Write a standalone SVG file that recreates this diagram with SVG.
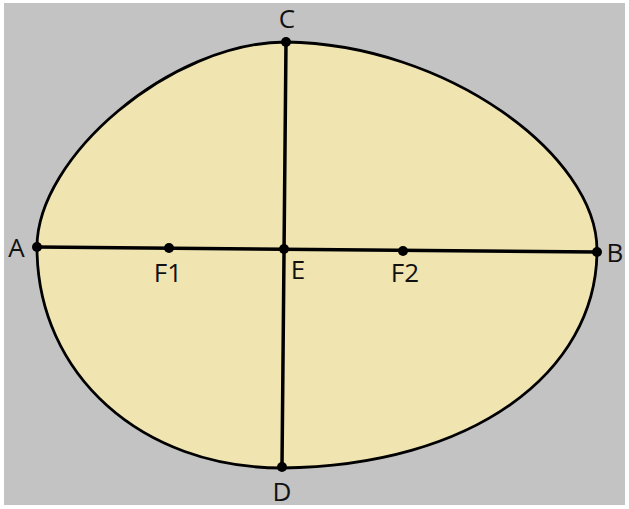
<svg xmlns="http://www.w3.org/2000/svg" width="629" height="509" viewBox="0 0 629 509">
<style>
.lbl{font-family:"Open Sans","Noto Sans","Liberation Sans",sans-serif;font-size:26px;fill:#111;text-anchor:middle}
.ax{stroke:#000;stroke-width:3.5;fill:none;stroke-linecap:round}
.pt{fill:#000}
</style>
<rect x="0" y="0" width="629" height="509" fill="#ffffff"/>
<rect x="4" y="3" width="621" height="502" fill="#c3c3c3"/>
<g id="shape">
<path d="M286,42 C446,44 597,155 597,250 C597,373 472,466 282,468 C142,468 37,375 37,247 C37,157 171,42 286,42 Z" fill="#f0e4b0" stroke="#000" stroke-width="2.8"/>
</g>
<g id="connectors">
<line class="ax" x1="37" y1="247" x2="597" y2="252"/>
<line class="ax" x1="286" y1="42" x2="282" y2="467"/>
</g>
<g id="A"><circle class="pt" cx="37" cy="247" r="5"/><text class="lbl" x="16.5" y="257">A</text></g>
<g id="B"><circle class="pt" cx="597" cy="252" r="5"/><text class="lbl" x="615" y="262">B</text></g>
<g id="C"><circle class="pt" cx="286" cy="42" r="5"/><text class="lbl" x="287" y="28">C</text></g>
<g id="D"><circle class="pt" cx="282" cy="467" r="5"/><text class="lbl" x="282" y="501">D</text></g>
<g id="E"><circle class="pt" cx="284" cy="249" r="5"/><text class="lbl" x="298" y="279">E</text></g>
<g id="F1"><circle class="pt" cx="169" cy="248" r="5"/><text class="lbl" x="168" y="282">F1</text></g>
<g id="F2"><circle class="pt" cx="403" cy="251" r="5"/><text class="lbl" x="405" y="282">F2</text></g>
</svg>
